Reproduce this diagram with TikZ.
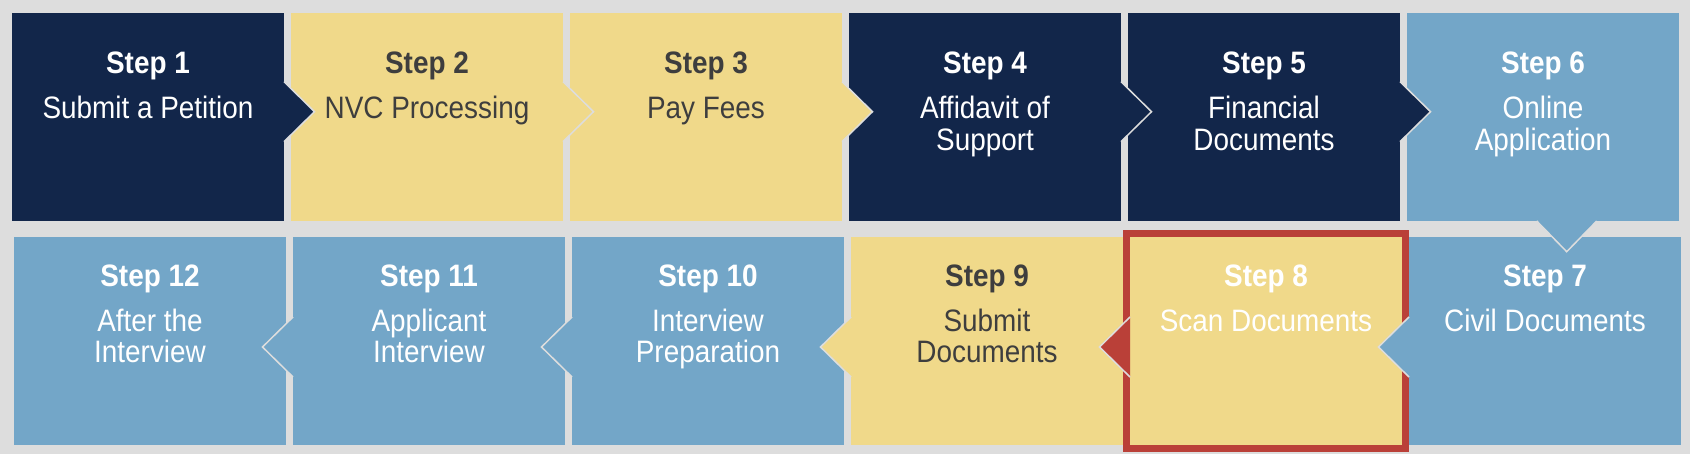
\documentclass[tikz,border=0pt]{standalone}
\usepackage{fontspec}
\setmainfont[FakeStretch=0.9]{Liberation Sans}
\usepackage{tikz}
\usetikzlibrary{positioning}

\definecolor{bg}{RGB}{221,221,221}
\definecolor{navy}{RGB}{18,38,74}
\definecolor{sand}{RGB}{240,217,138}
\definecolor{sky}{RGB}{115,166,200}
\definecolor{brick}{RGB}{186,64,56}
\definecolor{ink}{RGB}{62,62,62}

\begin{document}
\begin{tikzpicture}[x=0.5pt, y=0.5pt, node distance=3.5pt,
  stepbox/.style={rectangle, minimum width=136pt, minimum height=104pt, inner sep=0pt, outer sep=0pt},
  steptext/.style={align=center, inner sep=0pt, font=\fontsize{15.5}{15.85}\selectfont},
  tip/.style={draw=bg, line width=0.75pt}]
\fill[bg] (0,0) rectangle (1690,454);

% top row
\node[stepbox, fill=navy, anchor=north west] (s1) at (12,441) {};
\node[stepbox, fill=sand, right=of s1] (s2) {};
\node[stepbox, fill=sand, right=of s2] (s3) {};
\node[stepbox, fill=navy, right=of s3] (s4) {};
\node[stepbox, fill=navy, right=of s4] (s5) {};
\node[stepbox, fill=sky, right=of s5] (s6) {};
% bottom row, right to left
\node[stepbox, fill=sky, below=8pt of s6, xshift=1pt] (s7) {};
\node[stepbox, fill=sand, left=of s7] (s8) {};
\node[stepbox, fill=sand, left=of s8] (s9) {};
\node[stepbox, fill=sky, left=of s9] (s10) {};
\node[stepbox, fill=sky, left=of s10] (s11) {};
\node[stepbox, fill=sky, left=of s11] (s12) {};

\draw[brick, line width=3.35pt] ([shift={(-1.675pt,1.675pt)}]s8.north west) rectangle ([shift={(1.675pt,-1.675pt)}]s8.south east);

% arrow tips
\path[tip, fill=navy] ([yshift=-34.35pt]s1.north east) -- ++(15.25pt,-15pt) -- ++(-15.25pt,-15pt);
\path[tip, fill=sand] ([yshift=-34.35pt]s2.north east) -- ++(15.25pt,-15pt) -- ++(-15.25pt,-15pt);
\path[tip, fill=sand] ([yshift=-34.35pt]s3.north east) -- ++(15.25pt,-15pt) -- ++(-15.25pt,-15pt);
\path[tip, fill=navy] ([yshift=-34.35pt]s4.north east) -- ++(15.25pt,-15pt) -- ++(-15.25pt,-15pt);
\path[tip, fill=navy] ([yshift=-34.35pt]s5.north east) -- ++(15.25pt,-15pt) -- ++(-15.25pt,-15pt);
\path[tip, fill=sky] ([xshift=-71.15pt]s6.south east) -- ++(15pt,-15.35pt) -- ++(15pt,15.35pt);
\path[tip, fill=sky] ([yshift=-40pt]s7.north west) -- ++(-15.25pt,-15pt) -- ++(15.25pt,-15pt);
\path[tip, fill=brick] ([yshift=-40pt]s8.north west) -- ++(-15.25pt,-15pt) -- ++(15.25pt,-15pt);
\path[tip, fill=sand] ([yshift=-40pt]s9.north west) -- ++(-15.25pt,-15pt) -- ++(15.25pt,-15pt);
\path[tip, fill=sky] ([yshift=-40pt]s10.north west) -- ++(-15.25pt,-15pt) -- ++(15.25pt,-15pt);
\path[tip, fill=sky] ([yshift=-40pt]s11.north west) -- ++(-15.25pt,-15pt) -- ++(15.25pt,-15pt);

% labels
\node[steptext, text=white, below=19.2pt of s1.north] (t1) {\textbf{Step 1}\\[6.65pt]Submit a Petition};
\node[steptext, text=ink, below=19.2pt of s2.north] (t2) {\textbf{Step 2}\\[6.65pt]NVC Processing};
\node[steptext, text=ink, below=19.2pt of s3.north] (t3) {\textbf{Step 3}\\[6.65pt]Pay Fees};
\node[steptext, text=white, below=19.2pt of s4.north] (t4) {\textbf{Step 4}\\[6.65pt]Affidavit of\\Support};
\node[steptext, text=white, below=19.2pt of s5.north] (t5) {\textbf{Step 5}\\[6.65pt]Financial\\Documents};
\node[steptext, text=white, below=19.2pt of s6.north] (t6) {\textbf{Step 6}\\[6.65pt]Online\\Application};
\node[steptext, text=white, below=13.55pt of s7.north] (t7) {\textbf{Step 7}\\[6.65pt]Civil Documents};
\node[steptext, text=white, below=13.55pt of s8.north] (t8) {\textbf{Step 8}\\[6.65pt]Scan Documents};
\node[steptext, text=ink, below=13.55pt of s9.north] (t9) {\textbf{Step 9}\\[6.65pt]Submit\\Documents};
\node[steptext, text=white, below=13.55pt of s10.north] (t10) {\textbf{Step 10}\\[6.65pt]Interview\\Preparation};
\node[steptext, text=white, below=13.55pt of s11.north] (t11) {\textbf{Step 11}\\[6.65pt]Applicant\\Interview};
\node[steptext, text=white, below=13.55pt of s12.north] (t12) {\textbf{Step 12}\\[6.65pt]After the\\Interview};
\end{tikzpicture}
\end{document}
